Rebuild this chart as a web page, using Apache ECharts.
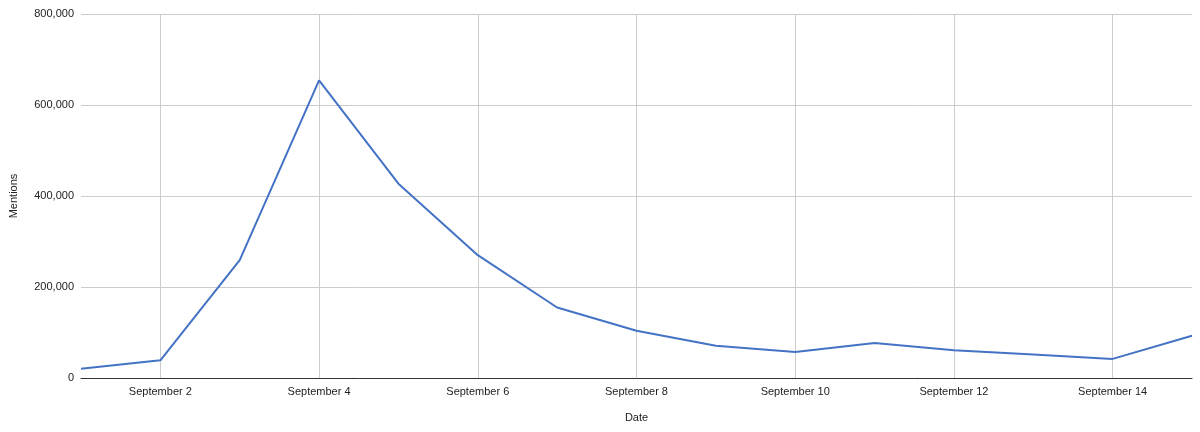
<!DOCTYPE html>
<html>
<head>
<meta charset="utf-8">
<script src="https://cdn.jsdelivr.net/npm/echarts@6/dist/echarts.min.js"></script>
<style>html,body{margin:0;padding:0;background:#fff}#c{width:1200px;height:432px}</style>
</head>
<body>
<div id="c"></div>
<script>
const categories = ['September 1','September 2','September 3','September 4','September 5','September 6','September 7','September 8','September 9','September 10','September 11','September 12','September 13','September 14','September 15'];
const mentions = [20400, 38800, 259000, 654000, 427000, 270000, 155000, 104000, 71000, 57000, 77000, 61000, 51500, 42000, 93000];
const yTicks = [0, 200000, 400000, 600000, 800000];

const chart = echarts.init(document.getElementById('c'));
const font = 'Liberation Sans, Arial, sans-serif';
const odd = (i) => i % 2 === 1;
chart.setOption({
  animation: false,
  grid: {left: 81, right: 8, top: 14, bottom: 54, containLabel: false},
  xAxis: {
    type: 'category',
    data: categories,
    boundaryGap: false,
    name: 'Date',
    nameLocation: 'middle',
    nameGap: 34,
    nameTextStyle: {fontFamily: font, fontSize: 11, color: '#222'},
    axisLine: {show: true, lineStyle: {color: '#333', width: 1}},
    axisTick: {show: false},
    axisLabel: {interval: (i) => odd(i), fontFamily: font, fontSize: 11, color: '#222', margin: 8},
    splitLine: {show: true, interval: (i) => odd(i), lineStyle: {color: '#cccccc', width: 1}}
  },
  yAxis: {
    type: 'value',
    min: yTicks[0],
    max: yTicks[yTicks.length - 1],
    interval: 200000,
    name: 'Mentions',
    nameLocation: 'middle',
    nameGap: 62,
    nameRotate: 90,
    nameTextStyle: {fontFamily: font, fontSize: 11, color: '#222'},
    axisLine: {show: false},
    axisTick: {show: false},
    axisLabel: {fontFamily: font, fontSize: 11, color: '#222', margin: 7,
      formatter: (v) => v.toLocaleString('en-US')},
    splitLine: {lineStyle: {color: '#cccccc', width: 1}}
  },
  series: [{
    type: 'line',
    data: mentions,
    symbol: 'none',
    lineStyle: {color: '#4472c4', width: 2},
    itemStyle: {color: '#4472c4'}
  }]
});
</script>
</body>
</html>
